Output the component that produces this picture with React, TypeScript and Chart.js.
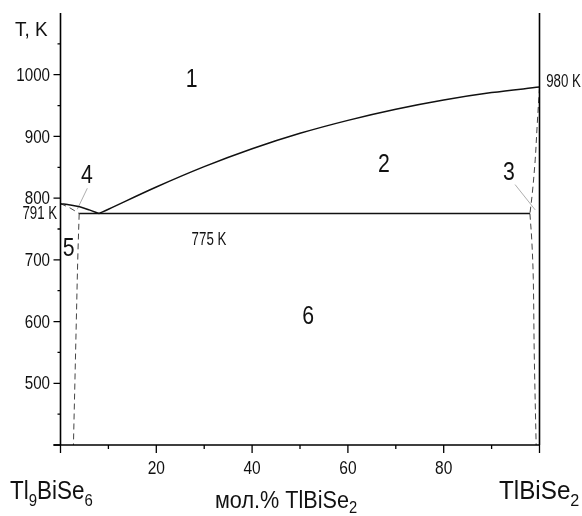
import React, { useEffect, useRef } from 'react';
import { Chart, registerables } from 'chart.js';
Chart.register(...registerables);

const FONT = "'Liberation Sans', Arial, sans-serif";

// Axis ticks
const xMajorTicks = [0, 20, 40, 60, 80, 100];
const xMinorTicks = [10, 30, 50, 70, 90];
const xTickLabels = [20, 40, 60, 80];
const yMajorTicks = [400, 500, 600, 700, 800, 900, 1000];
const yMinorTicks = [450, 550, 650, 750, 850, 950, 1050];
const yTickLabels = [500, 600, 700, 800, 900, 1000];

// Liquidus (TlBiSe2 side)
const liquidusX = [8, 10, 20, 30, 40, 50, 60, 70, 80, 90, 100];
const liquidusT = [775, 782, 818, 851, 880, 905, 926, 944, 959, 971, 980];
// Liquidus (Tl9BiSe6 side)
const leftLiquidusX = [0, 2, 4, 6, 8];
const leftLiquidusT = [791, 789, 786, 781, 775];
// Eutectic line
const eutecticX = [3.9, 98];
const eutecticT = [775, 775];
// Solidus / solvus lines (dashed)
const leftSolidusX = [0, 2, 3.9];
const leftSolidusT = [791, 784, 775];
const leftSolvusX = [3.9, 3.6, 3.3, 3.0, 2.7];
const leftSolvusT = [775, 700, 600, 500, 400];
const rightSolidusX = [100, 99.5, 99.1, 98.5, 98.0];
const rightSolidusT = [980, 916, 862, 808, 775];
const rightSolvusX = [98.0, 98.4, 98.7, 98.9, 99.3];
const rightSolvusT = [775, 730, 670, 550, 400];
// Leader lines
const leader4X = [5.6, 3.5];
const leader4T = [816, 782];
const leader3X = [94.9, 99.1];
const leader3T = [822, 781];

// Region labels (text, x mol%, T)
const regionLabels: [string, number, number][] = [
  ['1', 27.4, 992],
  ['2', 67.5, 854],
  ['3', 93.6, 841],
  ['4', 5.5, 836],
  ['5', 1.7, 718],
  ['6', 51.7, 608],
];
const tempLabels: [string, number, number, string][] = [
  ['775 K', 31.0, 732, 'center'],
  ['791 K', -0.7, 774, 'right'],
  ['980 K', 101.4, 988, 'left'],
];

const pts = (xs: number[], ys: number[]) => xs.map((x, i) => ({ x, y: ys[i] }));

export default function App() {
  const ref = useRef<HTMLCanvasElement>(null);
  useEffect(() => {
    const canvas = ref.current!;
    const solid = (xs: number[], ys: number[], extra: any = {}) => ({
      data: pts(xs, ys),
      showLine: true,
      borderColor: '#111',
      borderWidth: 1.5,
      pointRadius: 0,
      tension: 0.35,
      fill: false,
      ...extra,
    });
    const dashed = (xs: number[], ys: number[]) =>
      solid(xs, ys, { borderColor: '#444', borderWidth: 1, borderDash: [6, 4] });
    const leader = (xs: number[], ys: number[]) =>
      solid(xs, ys, { borderColor: '#999', borderWidth: 0.8, tension: 0 });

    const drawText = (
      ctx: CanvasRenderingContext2D,
      text: string,
      x: number,
      y: number,
      size: number,
      sx: number,
      align: string,
      baseline: CanvasTextBaseline,
    ) => {
      ctx.save();
      ctx.font = `${size}px ${FONT}`;
      ctx.textBaseline = baseline;
      ctx.textAlign = 'left';
      const w = ctx.measureText(text).width * sx;
      const left = align === 'center' ? x - w / 2 : align === 'right' ? x - w : x;
      ctx.translate(left, y);
      ctx.scale(sx, 1);
      ctx.fillText(text, 0, 0);
      ctx.restore();
      return w;
    };

    const overlay = {
      id: 'overlay',
      afterDraw(chart: any) {
        const ctx: CanvasRenderingContext2D = chart.ctx;
        const xs = chart.scales.x;
        const ys = chart.scales.y;
        const ca = chart.chartArea;
        ctx.save();
        ctx.strokeStyle = '#000';
        ctx.lineWidth = 1.6;
        // axes
        ctx.beginPath();
        ctx.moveTo(ca.left, ca.top);
        ctx.lineTo(ca.left, ca.bottom);
        ctx.moveTo(ca.left - 7, ca.bottom);
        ctx.lineTo(ca.right, ca.bottom);
        ctx.moveTo(ca.right, ca.top);
        ctx.lineTo(ca.right, ca.bottom);
        ctx.stroke();
        ctx.lineWidth = 1.3;
        ctx.beginPath();
        xMajorTicks.forEach((v) => {
          const p = xs.getPixelForValue(v);
          ctx.moveTo(p, ca.bottom);
          ctx.lineTo(p, ca.bottom + 8);
        });
        xMinorTicks.forEach((v) => {
          const p = xs.getPixelForValue(v);
          ctx.moveTo(p, ca.bottom);
          ctx.lineTo(p, ca.bottom + 4);
        });
        yMajorTicks.forEach((v) => {
          const p = ys.getPixelForValue(v);
          ctx.moveTo(ca.left, p);
          ctx.lineTo(ca.left - 7, p);
        });
        yMinorTicks.forEach((v) => {
          const p = ys.getPixelForValue(v);
          ctx.moveTo(ca.left, p);
          ctx.lineTo(ca.left - 3, p);
        });
        ctx.stroke();

        ctx.fillStyle = '#111';
        // tick labels
        xTickLabels.forEach((v) => {
          drawText(ctx, String(v), xs.getPixelForValue(v), 474, 18.5, 0.84, 'center', 'alphabetic');
        });
        yTickLabels.forEach((v) => {
          drawText(ctx, String(v), ca.left - 10.5, ys.getPixelForValue(v) + 1, 18.5, 0.82, 'right', 'middle');
        });

        regionLabels.forEach(([t, x, y]) => {
          drawText(ctx, t, xs.getPixelForValue(x), ys.getPixelForValue(y), 25, 0.85, 'center', 'middle');
        });
        tempLabels.forEach(([t, x, y, a]) => {
          drawText(ctx, t, xs.getPixelForValue(x), ys.getPixelForValue(y), 17.5, 0.76, a, 'middle');
        });

        // text with subscripts
        const sub = (parts: [string, boolean][], x: number, base: number, size: number, sx: number, drop: number) => {
          let cx = x;
          parts.forEach(([s, isSub]) => {
            const fs = isSub ? Math.round(size * 0.66) : size;
            cx += drawText(ctx, s, cx, isSub ? base + drop : base, fs, sx, 'left', 'alphabetic');
          });
        };
        sub([['T, K', false]], 15, 36, 21, 0.9, 0);
        sub([['Tl', false], ['9', true], ['BiSe', false], ['6', true]], 10, 499, 25.5, 0.88, 7);
        sub([['TlBiSe', false], ['2', true]], 499, 499, 25.5, 0.95, 7);
        sub([['мол.% TlBiSe', false], ['2', true]], 215, 508, 23.5, 0.92, 5);
        ctx.restore();
      },
    };

    const chart = new Chart(canvas, {
      type: 'scatter',
      data: {
        datasets: [
          solid(liquidusX, liquidusT),
          solid(leftLiquidusX, leftLiquidusT),
          solid(eutecticX, eutecticT, { tension: 0 }),
          dashed(leftSolidusX, leftSolidusT),
          dashed(leftSolvusX, leftSolvusT),
          dashed(rightSolidusX, rightSolidusT),
          dashed(rightSolvusX, rightSolvusT),
          leader(leader4X, leader4T),
          leader(leader3X, leader3T),
        ] as any,
      },
      options: {
        animation: false,
        responsive: false,
        maintainAspectRatio: false,
        layout: { padding: { left: 0, top: 13, right: 42.5, bottom: 41 } },
        plugins: { legend: { display: false }, tooltip: { enabled: false } },
        scales: {
          x: {
            type: 'linear',
            min: 0,
            max: 100,
            afterFit: (s: any) => { s.height = 30; },
            grid: { display: false, drawTicks: false },
            border: { display: false },
            ticks: { display: false, stepSize: 20 },
          },
          y: {
            type: 'linear',
            min: 400,
            max: 1100,
            afterFit: (s: any) => { s.width = 60.5; },
            grid: { display: false, drawTicks: false },
            border: { display: false },
            ticks: { display: false, stepSize: 100 },
          },
        },
      },
      plugins: [overlay],
    });
    return () => chart.destroy();
  }, []);
  return (
    <div style={{ position: 'fixed', left: 0, top: 0, width: 582, height: 516, background: '#fff' }}>
      <canvas ref={ref} width={582} height={516} style={{ display: 'block' }} />
    </div>
  );
}
